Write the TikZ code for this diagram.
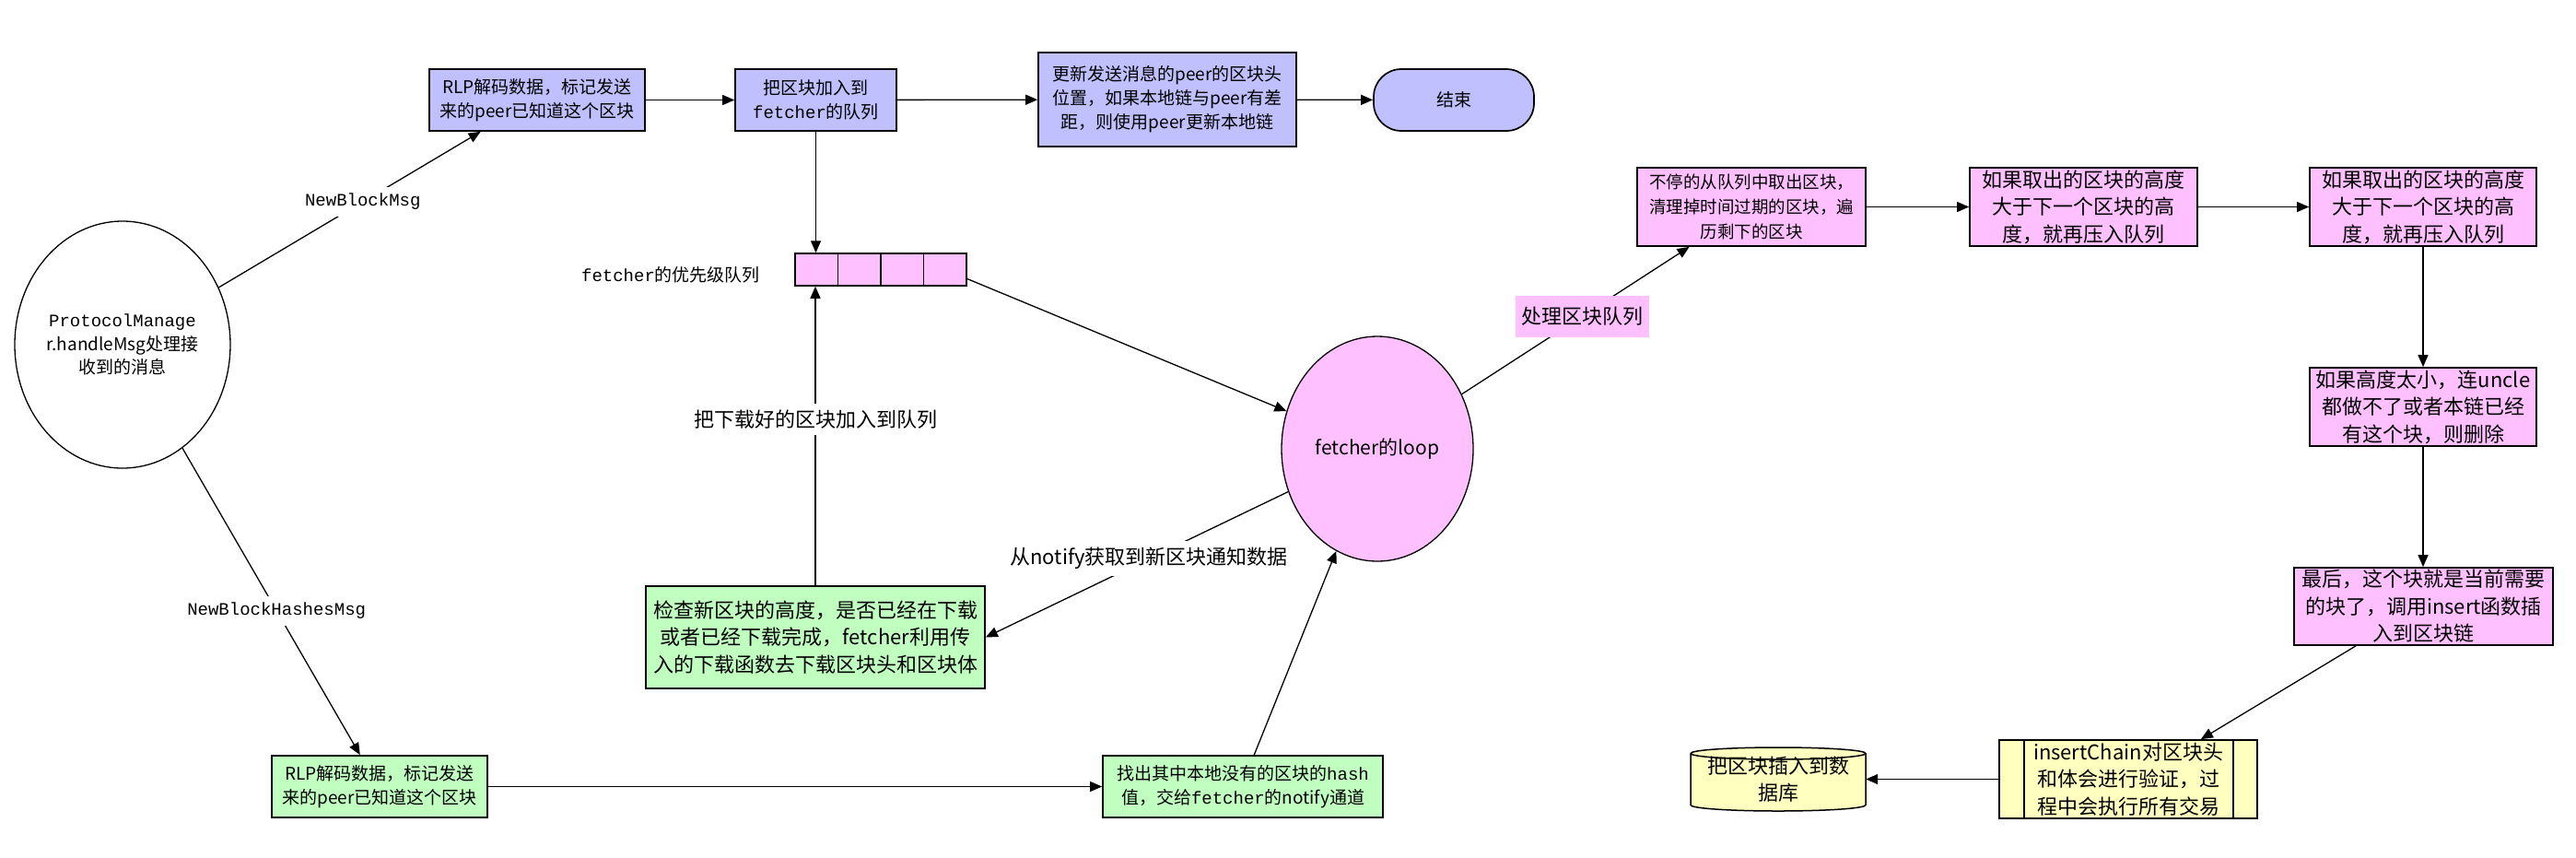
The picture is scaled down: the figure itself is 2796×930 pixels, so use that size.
\documentclass[tikz,border=0pt]{standalone}
\usepackage{fontspec}
\setmainfont{Noto Sans CJK SC}
\setmonofont{Liberation Mono}
\usetikzlibrary{arrows.meta,calc,shapes.geometric}
\definecolor{bluebox}{HTML}{C0C0FF}
\definecolor{pinkbox}{HTML}{FFC0FF}
\definecolor{greenbox}{HTML}{C0FFC0}
\definecolor{yellowbox}{HTML}{FFFFC0}
\begin{document}
\begin{tikzpicture}[x=1pt,y=-1pt,
  box/.style={draw, line width=1.7pt, inner sep=0pt, align=center, font=\fontsize{19}{26}\selectfont},
  bigbox/.style={box, font=\fontsize{22}{29.5}\selectfont},
  cell/.style={draw, line width=1.5pt, fill=pinkbox, minimum width=46.5pt, minimum height=35pt, inner sep=0pt},
  conn/.style={line width=1.3pt, -{Triangle[length=13pt,width=11pt]}},
  plain/.style={line width=1.3pt},
  edgelbl/.style={fill=white, inner sep=7pt, font=\fontsize{19}{26}\selectfont},
  bigedgelbl/.style={fill=white, inner sep=7pt, font=\fontsize{22}{29}\selectfont}
]
\useasboundingbox (0,0) rectangle (2796,930);

% top row
\node[box, fill=bluebox, minimum width=234pt, minimum height=67pt] (b1) at (583,108.5) {RLP解码数据，标记发送\\来的peer已知道这个区块};
\node[box, fill=bluebox, minimum width=175pt, minimum height=67pt] (b2) at (885.5,108.5) {把区块加入到\\\texttt{fetcher}的队列};
\node[box, fill=bluebox, minimum width=280pt, minimum height=102pt] (b3) at (1267,108) {更新发送消息的peer的区块头\\位置，如果本地链与peer有差\\距，则使用peer更新本地链};
\node[box, fill=bluebox, rounded corners=30pt, minimum width=174pt, minimum height=67pt] (fin) at (1578,108.5) {结束};

% queue
\foreach \i in {1,...,4} \node[cell] (q\i) at ({863+46.5*(\i-0.5)},292.5) {};
\node[font=\fontsize{19}{26}\selectfont, inner sep=0pt] (qlbl) at (728,298) {\texttt{fetcher}的优先级队列};

% ellipses
\node[draw, ellipse, line width=1.3pt, fill=white, minimum width=234pt, minimum height=268pt, inner sep=0pt, align=center, font=\fontsize{19}{25.5}\selectfont] (pm) at (133,374) {\texttt{ProtocolManage}\\r.handleMsg处理接\\收到的消息};
\node[draw, ellipse, line width=1.3pt, fill=pinkbox, minimum width=208pt, minimum height=244pt, inner sep=0pt, font=\fontsize{21}{26}\selectfont] (loop) at (1495,487) {fetcher的loop};

% right side
\node[box, fill=pinkbox, minimum width=248pt, minimum height=85pt, font=\fontsize{18.5}{27}\selectfont] (b4) at (1901,224.5) {不停的从队列中取出区块，\\清理掉时间过期的区块，遍\\历剩下的区块};
\node[bigbox, fill=pinkbox, minimum width=247pt, minimum height=85pt] (b5) at (2261.5,224.5) {如果取出的区块的高度\\大于下一个区块的高\\度，就再压入队列};
\node[bigbox, fill=pinkbox, minimum width=246pt, minimum height=85pt] (b6) at (2630,224.5) {如果取出的区块的高度\\大于下一个区块的高\\度，就再压入队列};
\node[bigbox, fill=pinkbox, minimum width=246pt, minimum height=85pt] (b7) at (2630,441.5) {如果高度太小，连uncle\\都做不了或者本链已经\\有这个块，则删除};
\node[bigbox, fill=pinkbox, minimum width=281pt, minimum height=84pt] (b8) at (2630.5,658) {最后，这个块就是当前需要\\的块了，调用insert函数插\\入到区块链};
\node[bigbox, fill=yellowbox, minimum width=280pt, minimum height=85pt] (b9) at (2310,845.5) {insertChain对区块头\\和体会进行验证，过\\程中会执行所有交易};
\draw[line width=1.5pt] ([xshift=28pt]b9.north west) -- ([xshift=28pt]b9.south west);
\draw[line width=1.5pt] ([xshift=-27pt]b9.north east) -- ([xshift=-27pt]b9.south east);

% database cylinder
\draw[line width=1.5pt, fill=yellowbox] (1835,817.5) -- (1835,873.5)
  arc[start angle=180, end angle=360, x radius=95pt, y radius=6.5pt]
  -- (2025,817.5)
  arc[start angle=0, end angle=180, x radius=95pt, y radius=6.5pt] -- cycle;
\draw[line width=1.5pt] (1835,817.5) arc[start angle=180, end angle=360, x radius=95pt, y radius=6.5pt];
\node[minimum width=190pt, minimum height=69pt, inner sep=0pt, align=center, font=\fontsize{22}{29.5}\selectfont] (db) at (1930,845.5) {\raisebox{-4pt}{\parbox{190pt}{\centering 把区块插入到数\\据库}}};

% bottom / middle
\node[bigbox, fill=greenbox, minimum width=368pt, minimum height=111pt] (g) at (885,691.5) {检查新区块的高度，是否已经在下载\\或者已经下载完成，fetcher利用传\\入的下载函数去下载区块头和区块体};
\node[box, fill=greenbox, minimum width=234pt, minimum height=67pt] (c1) at (412,853.5) {RLP解码数据，标记发送\\来的peer已知道这个区块};
\node[box, fill=greenbox, minimum width=304pt, minimum height=67pt] (c2) at (1349,853.5) {找出其中本地没有的区块的\texttt{hash}\\值，交给\texttt{fetcher}的notify通道};

% connectors
\draw[conn] (pm) -- node[edgelbl, pos=0.55] {\texttt{NewBlockMsg}} ($(b1.south west)!0.24!(b1.south east)$);
\draw[conn] (b1) -- (b2);
\draw[conn] (b2) -- (b3);
\draw[conn] (b3) -- (fin);
\draw[conn] (b2.south) -- (b2.south |- q1.north);
\draw[conn] (g.north) -- node[bigedgelbl, pos=0.555] {把下载好的区块加入到队列} (g.north |- q1.south);
\draw[conn] ([yshift=-10pt]q4.east) -- (loop);
\draw[conn] (loop) -- node[fill=pinkbox, minimum width=145pt, minimum height=45pt, inner sep=0pt, font=\fontsize{22}{29}\selectfont, pos=0.528] {处理区块队列} ($(b4.south west)!0.23!(b4.south east)$);
\draw[conn] (b4) -- (b5);
\draw[conn] (b5) -- (b6);
\draw[conn] (b6) -- (b7);
\draw[conn] (b7.south) -- (b7.south |- b8.north);
\draw[conn] ($(b8.south west)!0.24!(b8.south east)$) -- ($(b9.north west)!0.78!(b9.north east)$);
\draw[conn] (b9.west) -- (db.east);
\draw[conn] (pm) -- node[edgelbl, pos=0.53] {\texttt{NewBlockHashesMsg}} ($(c1.north west)!0.41!(c1.north east)$);
\draw[conn] (c1) -- (c2);
\draw[conn] ($(c2.north west)!0.54!(c2.north east)$) -- (loop);
\draw[conn] (loop) -- node[bigedgelbl, pos=0.46] {从notify获取到新区块通知数据} (g.east);
\end{tikzpicture}
\end{document}
